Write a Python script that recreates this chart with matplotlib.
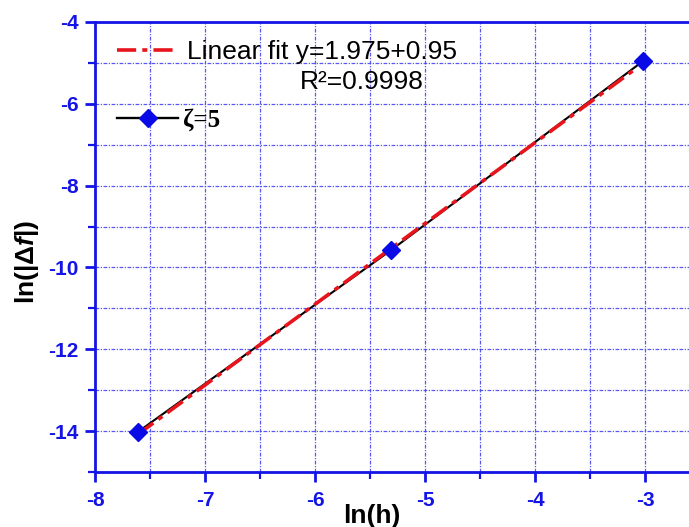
import matplotlib
matplotlib.use("Agg")
import matplotlib.pyplot as plt
import numpy as np
from matplotlib.lines import Line2D
from matplotlib.ticker import MultipleLocator

plt.rcParams['font.family'] = ['Liberation Sans', 'DejaVu Sans']
plt.rcParams['mathtext.fontset'] = 'custom'
plt.rcParams['mathtext.rm'] = 'Liberation Sans:bold'
plt.rcParams['mathtext.it'] = 'Liberation Sans:italic:bold'
plt.rcParams['mathtext.bf'] = 'Liberation Sans:bold'
plt.rcParams['axes.unicode_minus'] = False

# data
ln_h = [-7.61, -5.31, -3.02]
ln_df = [-14.02, -9.58, -4.96]
fit_intercept = 0.95
fit_slope = 1.975
fit_label = "Linear fit y=1.975+0.95"
r2_label = "R²=0.9998"
series_label = "ζ=5"
xticks = [-8, -7, -6, -5, -4, -3]
yticks = [-4, -6, -8, -10, -12, -14]

blue = '#1414e6'
grid_blue = '#4848ee'
red = '#e8141c'
fit_dashes = (5.3, 1.7, 1.4, 1.7)

W, H = 689, 527
L, R, B, T = 95, 689, 472, 22
fig = plt.figure(figsize=(W/100, H/100), dpi=100)
ax = fig.add_axes([L/W, 1 - B/H, (R-L)/W, (B-T)/H])

def ax_xy(px, py):
    return ((px - L)/(R - L), (B - py)/(B - T))

x_fit = np.array([ln_h[0], ln_h[-1] - 0.05])
y_fit = fit_slope * x_fit + fit_intercept

ax.plot(ln_h, ln_df, color='black', lw=1.5, zorder=3)
ax.plot(x_fit, y_fit, color=red, lw=2.6, dashes=fit_dashes, zorder=4)
ax.plot(ln_h, ln_df, linestyle='none', marker='D', ms=9.5, color='#0a0ae6', zorder=5)

ax.set_xlim(-8, -8 + (R-L)/110)
ax.set_ylim(-15, -4)
ax.set_xticks(xticks)
ax.set_yticks(yticks)
ax.xaxis.set_minor_locator(MultipleLocator(0.5))
ax.yaxis.set_minor_locator(MultipleLocator(1))

ax.grid(which='both', color=grid_blue, linestyle=(0, (3, 1.2, 1, 1.2)), lw=0.9, alpha=0.9)
ax.set_axisbelow(True)

for s in ['left', 'bottom', 'top']:
    ax.spines[s].set_color(blue)
    ax.spines[s].set_linewidth(2)
ax.spines['right'].set_visible(False)

ax.tick_params(which='major', direction='out', length=7, width=2, color=blue,
               labelcolor=blue, labelsize=15)
ax.tick_params(which='minor', direction='out', length=5, width=1.6, color=blue)
ax.tick_params(axis='x', pad=7)
ax.tick_params(axis='y', pad=5)
for lab in ax.get_xticklabels() + ax.get_yticklabels():
    lab.set_fontweight('bold')

ax.set_xlabel('ln(h)', fontsize=19, fontweight='bold')
ax.xaxis.set_label_coords(*ax_xy(372, 516))
ax.xaxis.label.set_va('center')
ax.set_ylabel(r'ln(|$\Delta f$|)', fontsize=19, fontweight='bold')
ax.yaxis.set_label_coords(*ax_xy(27, 262))
ax.yaxis.label.set_va('center')

h1 = Line2D([], [], color=red, lw=2.6, dashes=fit_dashes)
leg1 = ax.legend([h1], [fit_label], loc='center left',
                 bbox_to_anchor=ax_xy(117, 52), frameon=False, fontsize=19,
                 handlelength=58/26.4, handletextpad=12/26.4,
                 borderaxespad=0, borderpad=0)
ax.add_artist(leg1)

h2 = Line2D([], [], color='black', lw=1.7, marker='D', ms=9.5,
            markerfacecolor='#0a0ae6', markeredgecolor='#0a0ae6')
leg2 = ax.legend([h2], [series_label], loc='center left',
                 bbox_to_anchor=ax_xy(117, 120), frameon=False,
                 prop={'family': ['Liberation Serif', 'DejaVu Serif'], 'size': 18, 'weight': 'bold'},
                 handlelength=61/25.0, handletextpad=5/25.0,
                 borderaxespad=0, borderpad=0)

ax.text(*ax_xy(300, 82), r2_label, transform=ax.transAxes,
        fontsize=19, va='center', ha='left')

fig.savefig('out.png', dpi=100)
